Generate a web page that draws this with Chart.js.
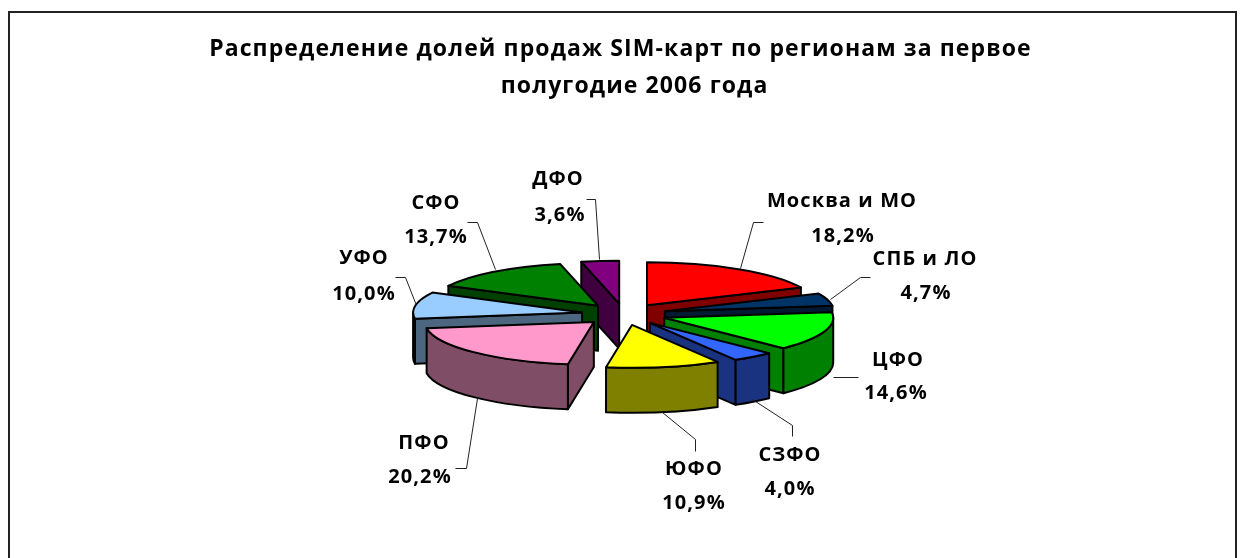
<!DOCTYPE html>
<html lang="ru">
<head>
<meta charset="utf-8">
<title>SIM</title>
<style>
html,body{margin:0;padding:0;background:#fff;}
#frame{position:absolute;left:8px;top:11px;width:1229px;height:560px;border:2px solid #222;box-sizing:border-box;}
canvas{position:absolute;left:0;top:0;}
</style>
<script src="https://cdn.jsdelivr.net/npm/chart.js@4/dist/chart.umd.min.js"></script>
</head>
<body>
<div id="frame"></div>
<canvas id="c" width="1242" height="558"></canvas>
<script>
const titleLines = ['Распределение долей продаж SIM-карт по регионам за первое ', '   полугодие 2006 года'];
const regions = ['Москва и МО','СПБ и ЛО','ЦФО','СЗФО','ЮФО','ПФО','УФО','СФО','ДФО'];
const shares = [18.2,4.7,14.6,4.0,10.9,20.2,10.0,13.7,3.6];
const topColors = ['#ff0000','#003366','#00ff00','#3366ff','#ffff00','#ff99cc','#99ccff','#008000','#800080'];
const wallColors = ['#800000','#001a33','#008000','#1a3380','#808000','#804d66','#4d6680','#004000','#400040'];

// layout of the 3D look and of the callouts (not data)
const TILT = 0.254, DEPTH = 45, EXPLODE = 42.5, RADIUS = 169;
const FONT = 'bold 20px "Open Sans", sans-serif';
const SPACING = '1.1px';
const labelPlaces = [
  [[842,207],[843,242]],[[925,265],[926,299]],[[898,366],[896,399]],
  [[790,461],[790,495]],[[694,475],[694,509]],[[424,449],[420,483]],
  [[364,264],[364,300]],[[436,209],[436,243]],[[558,185],[560,221]]
];
const leaders = [
  [[763,222],[753,222],[740,268]],[[870,277],[860,277],[830,299]],[[858,377],[833,377]],
  [[752,399],[792,425],[792,436]],[[662,412],[695,439],[695,451]],[[477,398],[466,468],[455,468]],
  [[395,277],[405,277],[416,305]],[[467,222],[477,222],[495,269]],[[586,199],[595,199],[599,259]]
];

function drawSlice(ctx, arc, i){
  const s = arc.startAngle, e = arc.endAngle, m = (s+e)/2;
  const r = arc.outerRadius, ry = r*TILT;
  const ax = arc.x + EXPLODE*Math.cos(m), ay = arc.y + EXPLODE*TILT*Math.sin(m);
  const px = t => ax + r*Math.cos(t), py = t => ay + ry*Math.sin(t);
  ctx.lineWidth = 2; ctx.lineJoin = 'round'; ctx.strokeStyle = '#000';
  const quad = t => {
    ctx.beginPath(); ctx.moveTo(ax,ay); ctx.lineTo(px(t),py(t));
    ctx.lineTo(px(t),py(t)+DEPTH); ctx.lineTo(ax,ay+DEPTH); ctx.closePath();
    ctx.fillStyle = wallColors[i]; ctx.fill(); ctx.stroke();
  };
  if (Math.cos(s) < 0) quad(s);
  if (Math.cos(e) > 0) quad(e);
  const a = Math.max(s,0), b = Math.min(e,Math.PI);
  if (b > a){
    ctx.beginPath();
    ctx.ellipse(ax,ay,r,ry,0,a,b);
    ctx.lineTo(px(b),py(b)+DEPTH);
    ctx.ellipse(ax,ay+DEPTH,r,ry,0,b,a,true);
    ctx.closePath();
    ctx.fillStyle = wallColors[i]; ctx.fill(); ctx.stroke();
  }
  ctx.beginPath(); ctx.moveTo(ax,ay);
  ctx.ellipse(ax,ay,r,ry,0,s,e); ctx.closePath();
  ctx.fillStyle = topColors[i]; ctx.fill(); ctx.stroke();
}

const pie3d = {
  id:'pie3d',
  beforeDraw(chart){ chart.ctx.letterSpacing = SPACING; },
  beforeDatasetDraw(chart){
    const ctx = chart.ctx, arcs = chart.getDatasetMeta(0).data;
    const order = arcs.map((a,i)=>i).sort((p,q)=>
      Math.sin((arcs[p].startAngle+arcs[p].endAngle)/2)-Math.sin((arcs[q].startAngle+arcs[q].endAngle)/2));
    ctx.save();
    order.forEach(i=>drawSlice(ctx,arcs[i],i));
    ctx.restore();
    return false;
  },
  afterDraw(chart){
    const ctx = chart.ctx;
    ctx.save();
    ctx.strokeStyle = '#222'; ctx.lineWidth = 1;
    leaders.forEach(p=>{
      ctx.beginPath(); p.forEach((q,j)=> j?ctx.lineTo(q[0]+.5,q[1]+.5):ctx.moveTo(q[0]+.5,q[1]+.5)); ctx.stroke();
    });
    ctx.fillStyle = '#000'; ctx.font = FONT; ctx.textAlign = 'center'; ctx.textBaseline = 'alphabetic';
    regions.forEach((name,i)=>{
      ctx.fillText(name, labelPlaces[i][0][0], labelPlaces[i][0][1]);
      ctx.fillText(shares[i].toFixed(1).replace('.',',')+'%', labelPlaces[i][1][0], labelPlaces[i][1][1]);
    });
    ctx.restore();
  }
};

new Chart(document.getElementById('c'),{
  type:'pie',
  data:{labels:regions,datasets:[{data:shares,backgroundColor:topColors,borderColor:'#000',borderWidth:2,radius:RADIUS}]},
  options:{
    responsive:false,animation:false,
    layout:{padding:{left:6,right:0,top:31,bottom:54}},
    plugins:{
      legend:{display:false},tooltip:{enabled:false},
      title:{display:true,text:titleLines,color:'#000',font:{family:'"Open Sans", sans-serif',size:23,weight:'bold',lineHeight:1.6},padding:{top:0,bottom:20}}
    }
  },
  plugins:[pie3d]
});
</script>
</body>
</html>
